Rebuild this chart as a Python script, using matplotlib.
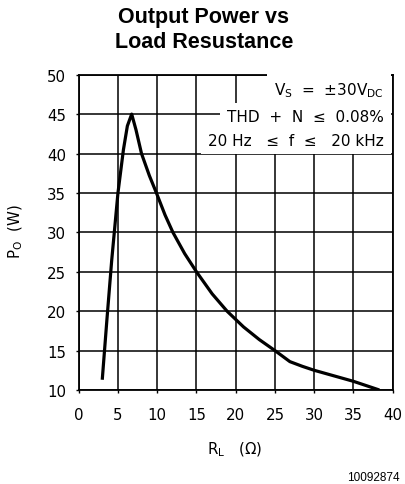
import matplotlib
matplotlib.use("Agg")
import matplotlib.pyplot as plt

# Data
r_load = [3.0, 3.6, 4.2, 5.0, 5.7, 6.2, 6.75, 7.3, 8.0, 9.0, 9.9, 11.0, 12.0, 13.5, 15.0, 17.0, 18.9, 21.0, 23.0, 25.0, 26.9, 28.5, 30.0, 32.5, 35.0, 38.3]
p_out = [11.3, 19.0, 26.4, 35.0, 40.5, 43.5, 45.0, 43.0, 40.0, 37.2, 35.0, 32.2, 30.0, 27.3, 25.0, 22.2, 20.0, 18.0, 16.4, 15.0, 13.6, 13.0, 12.5, 11.8, 11.1, 10.0]
x_ticks = [0, 5, 10, 15, 20, 25, 30, 35, 40]
y_ticks = [10, 15, 20, 25, 30, 35, 40, 45, 50]
title_lines = "Output Power vs\nLoad Resustance"
cond_lines = [r"V$_\mathregular{S}$  =  ±30V$_\mathregular{DC}$",
              "THD  +  N  ≤  0.08%",
              "20 Hz   ≤  f  ≤   20 kHz"]

W, H = 406, 485
fig = plt.figure(figsize=(W / 100, H / 100), dpi=100)
ax = fig.add_axes([78.7 / W, 1 - 391 / H, (392.7 - 78.7) / W, (391 - 75.7) / H])

ax.plot(r_load, p_out, color="black", lw=2.3, solid_capstyle="butt", zorder=3)
ax.set_xlim(0, 40)
ax.set_ylim(10, 50)
ax.set_xticks(x_ticks)
ax.set_yticks(y_ticks)
ax.grid(True, color="black", lw=1.1)
for s in ax.spines.values():
    s.set_linewidth(1.3)
ax.tick_params(direction="out", length=2, width=1, labelsize=10.8)
ax.tick_params(axis="x", pad=10)
ax.tick_params(axis="y", pad=7)
ax.set_axisbelow(True)

fig.text(235 / W, 1 - 450 / H, r"R$_\mathregular{L}$   ($\Omega$)", ha="center", va="center", fontsize=10.8)
fig.text(16 / W, 1 - 232 / H, r"P$_\mathregular{O}$  (W)", ha="center", va="center", fontsize=10.8,
         rotation=90)

fig.text(204 / W, 1 - 29.5 / H, title_lines, ha="center", va="center",
         fontsize=15.5, fontweight="bold", family="Liberation Sans", linespacing=1.25)

ys = [91, 118, 141]
for t, yy in zip(cond_lines, ys):
    fig.text(384 / W, 1 - yy / H, t, ha="right", va="center", fontsize=11,
             bbox=dict(facecolor="white", edgecolor="none", pad=5), zorder=10)

fig.text(400 / W, 1 - 478 / H, "10092874", ha="right", va="center", fontsize=8.5,
         family="Liberation Sans")

fig.savefig("out.png", dpi=100)
